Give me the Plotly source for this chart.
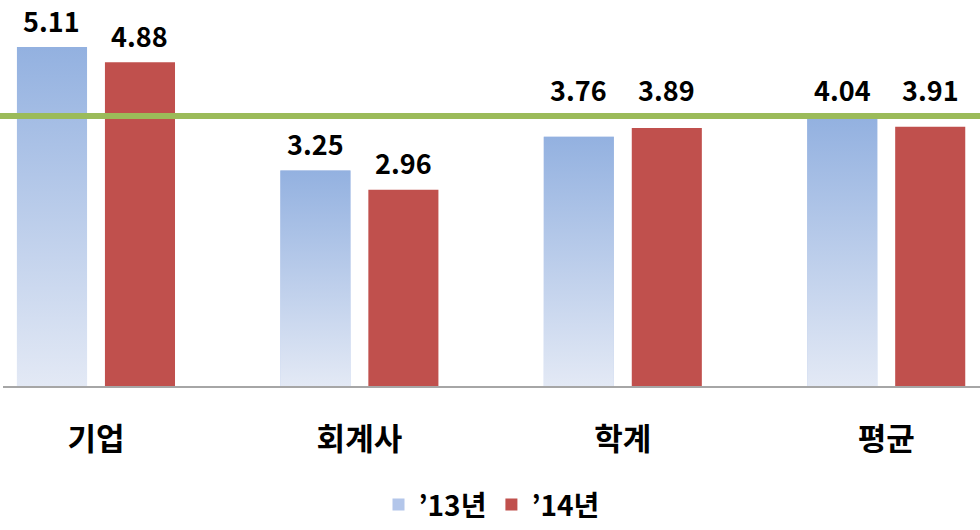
import numpy as np
import plotly.graph_objects as go

categories = ["기업", "회계사", "학계", "평균"]
series_names = ["’13년", "’14년"]
values_13 = [5.11, 3.25, 3.76, 4.04]
values_14 = [4.88, 2.96, 3.89, 3.91]
reference_line = 4.07

FONT = "Noto Sans CJK KR, Noto Sans, sans-serif"
BLUE_TOP = "#93B1E0"
BLUE_BOTTOM = "#E3E9F5"
BLUE_LEGEND = "#B3C6EA"
RED = "#C0504D"
GREEN = "#9BBB59"

BAR_W = 0.266
GAP = 0.068
off_13 = -(BAR_W + GAP / 2)
off_14 = GAP / 2

x = np.arange(len(categories))

fig = go.Figure()

fig.add_trace(go.Bar(
    x=x, y=values_13, name=series_names[0], width=BAR_W, offset=off_13,
    marker=dict(color=BLUE_LEGEND, line=dict(width=0)), hoverinfo="skip",
))
fig.add_trace(go.Bar(
    x=x, y=values_14, name=series_names[1], width=BAR_W, offset=off_14,
    marker=dict(color=RED, line=dict(width=0)), hoverinfo="skip",
))

# gradient overlay for the '13 bars (one polygon per bar, from data values)
for xi, v in zip(x, values_13):
    x0 = xi + off_13
    x1 = x0 + BAR_W
    fig.add_trace(go.Scatter(
        x=[x0, x1, x1, x0, x0], y=[0, 0, v, v, 0],
        mode="lines", line=dict(width=0), fill="toself",
        fillgradient=dict(type="vertical", start=0, stop=v,
                          colorscale=[[0, BLUE_BOTTOM], [1, BLUE_TOP]]),
        showlegend=False, hoverinfo="skip",
    ))

# value labels
NEAR = 0.5
for vals, off in ((values_13, off_13), (values_14, off_14)):
    for xi, v in zip(x, vals):
        anchor = max(v, reference_line) if v > reference_line - NEAR else v
        fig.add_annotation(
            x=xi + off + BAR_W / 2, y=anchor, yshift=27,
            text=f"{v:.2f}", showarrow=False,
            font=dict(family=FONT, size=27, color="black", weight="bold"),
        )

fig.add_shape(
    type="line", xref="paper", yref="y", x0=-0.01, x1=1.01,
    y0=reference_line, y1=reference_line,
    line=dict(color=GREEN, width=6), layer="above",
)

fig.update_layout(
    width=980, height=530,
    margin=dict(l=3, r=0, t=0, b=144),
    paper_bgcolor="white", plot_bgcolor="white",
    barmode="overlay",
    showlegend=True,
    legend=dict(orientation="h", x=0.5, xanchor="center", y=-0.308, yanchor="middle",
                font=dict(family=FONT, size=28, color="black", weight="bold"),
                traceorder="normal"),
    xaxis=dict(
        range=[-0.353, 3.356], tickvals=x, ticktext=categories,
        showgrid=False, zeroline=False, showline=True, linecolor="#A6A6A6", linewidth=2,
        ticks="", ticklabelstandoff=25,
        tickfont=dict(family=FONT, size=31, color="black", weight="bold"),
    ),
    yaxis=dict(
        range=[0, 5.82], showgrid=False, zeroline=False, showline=False,
        showticklabels=False, ticks="",
    ),
)

fig.write_html("out.html", config={"displayModeBar": False},
               post_script="document.body.style.margin='0';")
